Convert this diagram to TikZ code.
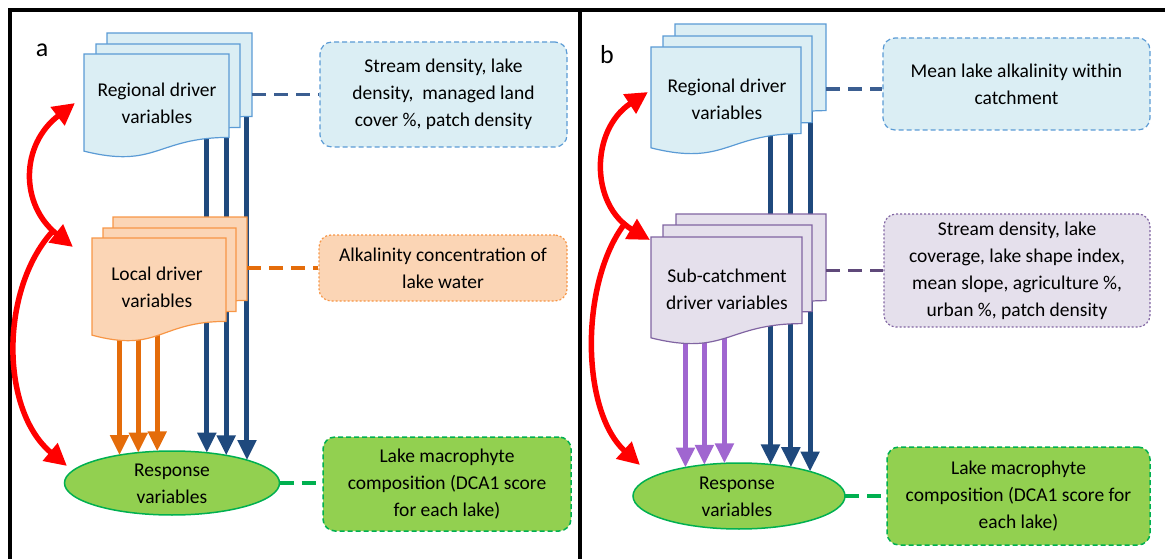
\documentclass[tikz,border=0pt]{standalone}
\usepackage{fontspec}
\setmainfont{Carlito}
\usetikzlibrary{arrows.meta,shapes.geometric}

\definecolor{navy}{HTML}{1F497D}
\definecolor{orarrow}{HTML}{E46C0A}
\definecolor{purarrow}{HTML}{A066D0}
\definecolor{bluefill}{HTML}{DBEEF4}
\definecolor{blueline}{HTML}{5B9BD5}
\definecolor{bluelink}{HTML}{3B5E91}
\definecolor{orfill}{HTML}{FBD5B5}
\definecolor{orline}{HTML}{F79646}
\definecolor{lavfill}{HTML}{E5E0EC}
\definecolor{lavline}{HTML}{8064A2}
\definecolor{lavlink}{HTML}{5F497A}
\definecolor{grnfill}{HTML}{92D050}
\definecolor{grnline}{HTML}{00B050}

\tikzset{
  txt/.style={font=\fontsize{19.5}{27}\selectfont, align=center, inner sep=0pt, text=black},
  infobox/.style={txt, rounded corners=12pt, line width=1.2pt},
  dashedborder/.style={dash pattern=on 5pt off 3pt},
  dottedborder/.style={dash pattern=on 2pt off 2pt},
  linkline/.style={line width=3.5pt, dash pattern=on 14pt off 8pt},
  fatarrow/.style={line width=5pt, -{Triangle[width=18pt,length=20pt]}},
  redarrow/.style={draw=red, line width=5.5pt},
  redhead/.tip={Triangle[width=22pt,length=22pt]},
  response/.style={ellipse, draw=grnline, fill=grnfill, line width=1.5pt, inner sep=0pt, outer sep=0pt},
  frame/.style={line width=3.5pt, black},
  bluesheet/.style={fill=bluefill, draw=blueline, line width=1.2pt},
  orsheet/.style={fill=orfill, draw=orline, line width=1.2pt},
  lavsheet/.style={fill=lavfill, draw=lavline, line width=1.2pt},
}

% one page of a document stack: name of its top-right corner, style, left, top, right, height
\newcommand\docsheet[6]{%
  \path[#2] (#3,#4) -- (#5,#4) -- (#5,{#4+0.802*#6})
    .. controls ({(#3+#5)/2},{#4+0.802*#6}) and ({(#3+#5)/2},{#4+1.1075*#6}) .. (#3,{#4+0.934*#6}) -- cycle;
  \coordinate (#1) at (#5,#4);}

\begin{document}
\begin{tikzpicture}[x=1pt,y=-1pt]
\useasboundingbox (0,0) rectangle (1165,559);

% frames of the two panels
\draw[frame] (10,559) -- (10,10) -- (1165,10);
\draw[frame] (580,10) -- (580,559);

% ---------------- panel a ----------------
\node[txt, font=\fontsize{26}{30}\selectfont] (labA) at (42,50) {a};

\node[response, minimum width=215pt, minimum height=64pt] (respA) at (172,483) {};
\node[txt] (respAtxt) at (172,484) {Response\\variables};

% regional drivers act on the response
\coordinate (regA) at (157,103);
\draw[navy, fatarrow] (respA.41.8 |- regA) -- (respA.41.8);
\draw[navy, fatarrow] (respA.27.7 |- regA) -- (respA.27.7);
\draw[navy, fatarrow] (respA.17.3 |- regA) -- (respA.17.3);

\docsheet{regAback}{bluesheet}{107}{33}{252}{104}
\docsheet{regAmid}{bluesheet}{96}{44}{240}{104}
\docsheet{regAfront}{bluesheet}{84}{54}{229}{104}
\node[txt] (regAtxt) at (regA) {Regional driver\\variables};

% local drivers act on the response
\coordinate (locA) at (157,287);
\draw[orarrow, fatarrow] (respA.152.8 |- locA) -- (respA.152.8);
\draw[orarrow, fatarrow] (respA.138.2 |- locA) -- (respA.138.2);
\draw[orarrow, fatarrow] (respA.115.3 |- locA) -- (respA.115.3);

\docsheet{locAback}{orsheet}{113}{217}{247}{104}
\docsheet{locAmid}{orsheet}{103}{228}{236}{104}
\docsheet{locAfront}{orsheet}{92}{238}{226}{104}
\node[txt] (locAtxt) at (locA) {Local driver\\variables};

% descriptions
\node[infobox, draw=blueline, fill=bluefill, dashedborder, minimum width=247pt, minimum height=105pt] (boxA1) at (443.5,94.5)
  {Stream density, lake\\density,~ managed land\\cover \%, patch density};
\node[infobox, draw=orline, fill=orfill, dottedborder, minimum width=248pt, minimum height=66pt] (boxA2) at (443,268)
  {Alkalinity concentration of\\lake water};
\node[infobox, draw=grnline, fill=grnfill, dashedborder, line width=1.5pt, minimum width=248pt, minimum height=94pt] (boxA3) at (447,484)
  {Lake macrophyte\\composition (DCA1 score\\for each lake)};

\draw[bluelink, linkline] (regAback |- boxA1.west) -- (boxA1.west);
\draw[orarrow, linkline] (locAback |- boxA2.west) -- (boxA2.west);
\draw[grnline, linkline] (respA.east) -- (respA.east -| boxA3.west);

% feedback between the levels
\draw[redarrow, -{redhead}] (52,232) .. controls (0,290) and (0,410) .. (67,466);
\draw[redarrow, {redhead}-{redhead}] (75,103) .. controls (20,145) and (20,205) .. (73,247);

% ---------------- panel b ----------------
\node[txt, font=\fontsize{26}{30}\selectfont] (labB) at (607,55) {b};

\node[response, minimum width=212pt, minimum height=66pt] (respB) at (739,496) {};
\node[txt] (respBtxt) at (737,497) {Response\\variables};

\coordinate (regB) at (727,99);
\draw[navy, fatarrow] (respB.45.5 |- regB) -- (respB.45.5);
\draw[navy, fatarrow] (respB.29.5 |- regB) -- (respB.29.5);
\draw[navy, fatarrow] (respB.19.0 |- regB) -- (respB.19.0);

\docsheet{regBback}{bluesheet}{675}{24}{826}{108}
\docsheet{regBmid}{bluesheet}{663}{36}{812}{108}
\docsheet{regBfront}{bluesheet}{651}{47}{801}{108}
\node[txt] (regBtxt) at (regB) {Regional driver\\variables};

\coordinate (subB) at (727,289);
\draw[purarrow, fatarrow] (respB.152.8 |- subB) -- (respB.152.8);
\draw[purarrow, fatarrow] (respB.138.3 |- subB) -- (respB.138.3);
\draw[purarrow, fatarrow] (respB.114.6 |- subB) -- (respB.114.6);

\docsheet{subBback}{lavsheet}{676}{214}{826}{108}
\docsheet{subBmid}{lavsheet}{663}{225}{812}{108}
\docsheet{subBfront}{lavsheet}{651}{237}{802}{108}
\node[txt] (subBtxt) at (subB) {Sub-catchment\\driver variables};

\node[infobox, draw=blueline, fill=bluefill, dashedborder, minimum width=267pt, minimum height=92pt] (boxB1) at (1016.5,84)
  {Mean lake alkalinity within\\catchment};
\node[infobox, draw=lavline, fill=lavfill, dottedborder, minimum width=266pt, minimum height=113pt] (boxB2) at (1017,270.5)
  {Stream density, lake\\coverage, lake shape index,\\mean slope, agriculture \%,\\urban \%, patch density};
\node[infobox, draw=grnline, fill=grnfill, dashedborder, line width=1.5pt, minimum width=263pt, minimum height=98pt] (boxB3) at (1018.5,496)
  {Lake macrophyte\\composition (DCA1 score for\\each lake)};

\draw[bluelink, linkline] ([yshift=-5pt]regBback |- boxB1.west) -- ([yshift=-5pt]boxB1.west);
\draw[lavlink, linkline] (subBback |- boxB2.west) -- (boxB2.west);
\draw[grnline, linkline] (respB.east) -- (respB.east -| boxB3.west);

\draw[redarrow, -{redhead}] (626,222) .. controls (580,280) and (580,410) .. (640,465);
\draw[redarrow, {redhead}-{redhead}] (648,92) .. controls (590,130) and (590,205) .. (650,240);

\end{tikzpicture}
\end{document}
